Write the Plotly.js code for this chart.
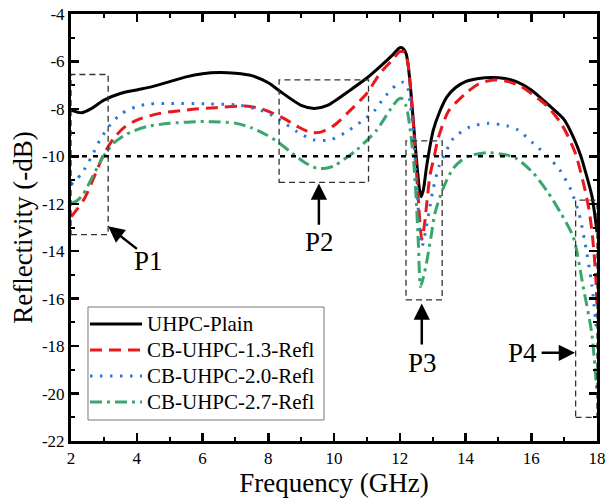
<!DOCTYPE html>
<html>
<head>
<meta charset="utf-8">
<script src="https://cdn.plot.ly/plotly-3.0.1.min.js"></script>
<style>html,body{margin:0;padding:0;background:#fff;}#chart{width:608px;height:501px;}</style>
</head>
<body>
<div id="chart"></div>
<script>
// Series names
var seriesNames = ["UHPC-Plain", "CB-UHPC-1.3-Refl", "CB-UHPC-2.0-Refl", "CB-UHPC-2.7-Refl"];

// UHPC-Plain
var freqPlain = [2.0,2.33,2.6,3.0,3.5,4.0,4.5,5.0,5.5,6.0,6.5,7.0,7.5,8.0,8.4,9.0,9.4,9.8,10.5,11.0,11.4,11.8,12.0,12.1,12.2,12.3,12.4,12.5,12.6,12.65,12.72,12.82,13.02,13.22,13.43,13.7,14.0,14.4,14.8,15.2,15.6,16.0,16.5,17.0,17.3,17.5,17.7,17.85,18.0];
var reflPlain = [-8.05,-8.16,-8.0,-7.63,-7.35,-7.2,-7.05,-6.85,-6.65,-6.52,-6.47,-6.5,-6.6,-6.9,-7.3,-7.85,-7.98,-7.85,-7.2,-6.7,-6.22,-5.7,-5.42,-5.45,-5.7,-6.7,-8.3,-10.0,-11.4,-11.7,-11.4,-10.4,-8.9,-8.1,-7.5,-7.1,-6.85,-6.72,-6.68,-6.72,-6.88,-7.2,-7.8,-8.45,-9.25,-9.95,-10.9,-11.7,-13.2];

// CB-UHPC-1.3-Refl
var freq13 = [2.0,2.2,2.4,2.6,2.8,3.0,3.3,3.6,4.0,4.7,5.7,6.4,7.3,7.8,8.4,8.9,9.3,9.6,10.0,10.4,11.0,11.4,11.8,12.0,12.15,12.25,12.35,12.45,12.55,12.67,12.75,12.82,12.92,13.05,13.17,13.48,14.0,14.4,14.85,15.3,15.7,16.1,16.5,16.9,17.1,17.35,17.6,17.75,17.85,17.95,18.0];
var refl13 = [-12.55,-12.2,-11.8,-11.2,-10.55,-9.9,-9.24,-8.8,-8.47,-8.19,-8.02,-7.95,-7.88,-8.0,-8.35,-8.75,-9.0,-8.98,-8.7,-8.19,-7.34,-6.5,-5.9,-5.59,-5.6,-6.1,-7.5,-9.4,-11.5,-13.5,-12.9,-12.0,-10.8,-10.0,-9.24,-8.1,-7.35,-6.95,-6.78,-6.85,-7.06,-7.45,-7.9,-8.6,-9.1,-9.9,-11.2,-12.2,-13.2,-14.8,-16.3];

// CB-UHPC-2.0-Refl
var freq20 = [2.0,2.33,2.63,2.88,3.19,3.54,4.0,4.4,5.0,6.2,7.1,7.9,8.36,8.87,9.37,9.88,10.39,10.89,11.25,11.5,11.9,12.1,12.22,12.32,12.42,12.52,12.62,12.68,12.78,12.92,13.02,13.2,13.38,13.63,14.14,14.7,15.25,15.6,16.06,16.5,16.87,17.2,17.45,17.63,17.84,18.0];
var refl20 = [-11.2,-10.72,-10.0,-9.31,-8.68,-8.19,-7.9,-7.79,-7.77,-7.79,-7.84,-8.12,-8.47,-8.96,-9.3,-9.31,-8.96,-8.47,-8.05,-7.56,-6.99,-6.88,-7.0,-7.8,-9.1,-11.2,-13.3,-13.8,-13.2,-12.1,-11.35,-10.4,-9.87,-9.24,-8.75,-8.61,-8.71,-8.89,-9.45,-10.0,-10.58,-11.4,-12.4,-13.6,-15.4,-17.5];

// CB-UHPC-2.7-Refl
var freq27 = [2.0,2.2,2.37,2.68,2.98,3.29,3.69,4.3,5.0,5.8,6.3,7.0,7.5,7.95,8.3,8.66,9.1,9.47,9.75,10.0,10.69,11.3,11.7,11.95,12.06,12.2,12.3,12.41,12.5,12.57,12.63,12.7,12.8,12.95,13.07,13.32,13.63,14.03,14.64,15.25,15.56,16.06,16.5,16.9,17.28,17.58,17.84,18.0];
var refl27 = [-12.0,-11.85,-11.6,-10.79,-10.02,-9.45,-9.06,-8.75,-8.61,-8.54,-8.54,-8.6,-8.8,-9.1,-9.4,-9.8,-10.25,-10.5,-10.5,-10.4,-9.73,-8.89,-8.05,-7.6,-7.56,-7.9,-8.7,-10.0,-11.8,-13.8,-15.5,-15.2,-14.6,-13.4,-12.4,-11.35,-10.5,-10.02,-9.85,-9.94,-10.1,-10.7,-11.5,-12.4,-13.4,-15.5,-17.46,-20.0];

// Axis ticks
var xTicks = [2,4,6,8,10,12,14,16,18];
var yTicks = [-22,-20,-18,-16,-14,-12,-10,-8,-6,-4];

// Highlighted regions [x0, x1, y0, y1] and labels
var regionLabels = ["P1","P2","P3","P4"];
var regionBoxes = [[2.0,3.13,-13.3,-6.55],[8.33,11.05,-11.1,-6.78],[12.19,13.29,-16.05,-9.35],[17.35,18.0,-21.0,-11.85]];
// arrow tip, arrow tail, label position
var arrowTips  = [[3.13,-12.95],[9.54,-11.15],[12.67,-16.2],[17.33,-18.28]];
var arrowTails = [[4.05,-13.95],[9.54,-12.95],[12.67,-18.0],[16.27,-18.28]];
var labelPos   = [[4.35,-14.4],[9.56,-13.6],[12.68,-18.7],[15.74,-18.3]];
var thresholdLevel = -10;
var thresholdRange = [2, 17];

var FONT = "Liberation Serif, 'Times New Roman', serif";
var freqs = [freqPlain, freq13, freq20, freq27];
var refls = [reflPlain, refl13, refl20, refl27];
var colors = ["#000000", "#e8191d", "#2a78d6", "#3aa66e"];
var dashes = ["solid", "12px,7px", "2.5px,7.5px", "12px,5px,3px,5px"];

var traces = [];
for (var i = 0; i < 4; i++) {
  traces.push({
    x: freqs[i], y: refls[i], name: seriesNames[i], type: "scatter", mode: "lines",
    line: {color: colors[i], width: 3, dash: dashes[i], shape: "spline", smoothing: 0.7},
    showlegend: false
  });
}

var shapes = [];
regionBoxes.forEach(function (b) {
  shapes.push({type: "rect", xref: "x", yref: "y", x0: b[0], x1: b[1], y0: b[2], y1: b[3],
    line: {color: "#333", width: 1.3, dash: "6px,4px"}, fillcolor: "rgba(0,0,0,0)"});
});
shapes.push({type: "line", xref: "x", yref: "y", x0: thresholdRange[0], x1: thresholdRange[1],
  y0: thresholdLevel, y1: thresholdLevel, line: {color: "#000", width: 2.5, dash: "5px,6px"}});

var annotations = [];
for (var k = 0; k < 4; k++) {
  annotations.push({x: arrowTips[k][0], y: arrowTips[k][1], ax: arrowTails[k][0], ay: arrowTails[k][1],
    xref: "x", yref: "y", axref: "x", ayref: "y", text: "", showarrow: true,
    arrowhead: 2, arrowsize: 1.3, arrowwidth: 2.5, arrowcolor: "#000", standoff: 0, startstandoff: 0});
  annotations.push({x: labelPos[k][0], y: labelPos[k][1], xref: "x", yref: "y", text: regionLabels[k],
    showarrow: false, font: {family: FONT, size: 27, color: "#000"}});
}

// Legend box drawn in paper coordinates
var legBox = {x0: 0.0323, x1: 0.481, y0: 0.0492, y1: 0.3138};
var legRows = [0.274, 0.2131, 0.1522, 0.0913];
var legSample = [0.0361, 0.135];
var legText = 0.1407;
shapes.push({type: "rect", xref: "paper", yref: "paper", x0: legBox.x0, x1: legBox.x1, y0: legBox.y0, y1: legBox.y1,
  line: {color: "#777", width: 1}, fillcolor: "#fff"});
for (var j = 0; j < 4; j++) {
  shapes.push({type: "line", xref: "paper", yref: "paper", x0: legSample[0], x1: legSample[1],
    y0: legRows[j], y1: legRows[j], line: {color: colors[j], width: 3, dash: dashes[j]}});
  annotations.push({xref: "paper", yref: "paper", x: legText, y: legRows[j], xanchor: "left", yanchor: "middle",
    text: seriesNames[j], showarrow: false, font: {family: FONT, size: 21, color: "#000"}});
}

var axisCommon = {
  showline: true, linecolor: "#000", linewidth: 3, mirror: "allticks",
  ticks: "inside", ticklen: 8, tickwidth: 2.5, tickcolor: "#000",
  showgrid: false, zeroline: false,
  tickfont: {family: FONT, size: 17, color: "#000"},
  minor: {ticks: "inside", ticklen: 4, tickwidth: 2, tickcolor: "#000", dtick: 1, showgrid: false}
};

var layout = {
  width: 608, height: 501,
  margin: {l: 71, r: 11, t: 14, b: 60},
  paper_bgcolor: "#fff", plot_bgcolor: "#fff",
  font: {family: FONT, color: "#000"},
  xaxis: Object.assign({}, axisCommon, {
    range: [2, 18], tickvals: xTicks, ticktext: xTicks.map(String),
    title: {text: "Frequency (GHz)", font: {family: FONT, size: 27, color: "#000"}, standoff: 4}
  }),
  yaxis: Object.assign({}, axisCommon, {
    range: [-22, -4], tickvals: yTicks, ticktext: yTicks.map(String),
    title: {text: "Reflectivity (-dB)", font: {family: FONT, size: 27, color: "#000"}, standoff: 2}
  }),
  showlegend: false,
  shapes: shapes,
  annotations: annotations
};

Plotly.newPlot("chart", traces, layout, {displayModeBar: false, staticPlot: true});
</script>
</body>
</html>
